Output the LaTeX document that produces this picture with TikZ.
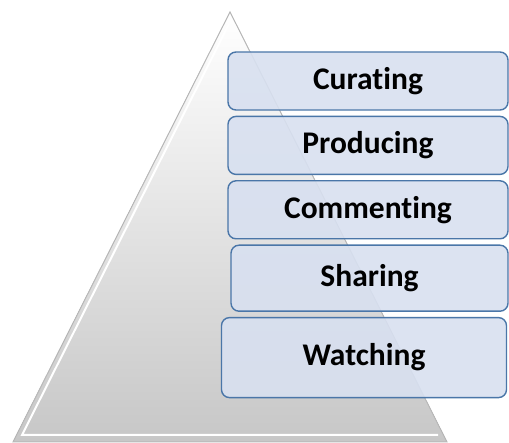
\documentclass[tikz,border=0pt]{standalone}
\usepackage{fontspec}
\setmainfont[Ligatures=NoCommon]{Carlito}
\usepackage{tikz}
\usetikzlibrary{positioning}
\definecolor{boxfill}{HTML}{D8E0F0}
\definecolor{boxline}{HTML}{4A76A8}
\tikzstyle{stage} = [draw=boxline, line width=1.4pt, fill=boxfill, fill opacity=0.9, text opacity=1,
  rounded corners=8pt, minimum width=280pt, minimum height=58pt,
  font=\fontsize{31.5}{31.5}\selectfont\bfseries]
\begin{document}
\begin{tikzpicture}[x=1pt, y=-1pt]
        \useasboundingbox (0,0) rectangle (509,443);
        % pyramid
        \coordinate (apex) at (230,12);
        \coordinate (bl) at (13,442);
        \coordinate (br) at (447,442);
        \fill[top color=white, bottom color=black!22] (apex) -- (br) -- (bl) -- cycle;
        \draw[black!28, line width=1pt] (apex) -- (br) -- (bl) -- cycle;
        \draw[white, line width=2pt] (229,24) -- (22,435) -- (438,435);
        % stages
        \node[stage] (cur) at (368,81) {Curating};
        \node[stage, below=5pt of cur] (pro) {Producing};
        \node[stage, below=5pt of pro] (com) {Commenting};
        \node[stage, below=5pt of com, minimum width=277pt, minimum height=66pt, xshift=1.5pt] (sha) {Sharing};
        \node[stage, below=5pt of sha, minimum width=285pt, minimum height=80pt, xshift=-5.5pt] (wat) {Watching};
    \end{tikzpicture}
\end{document}
